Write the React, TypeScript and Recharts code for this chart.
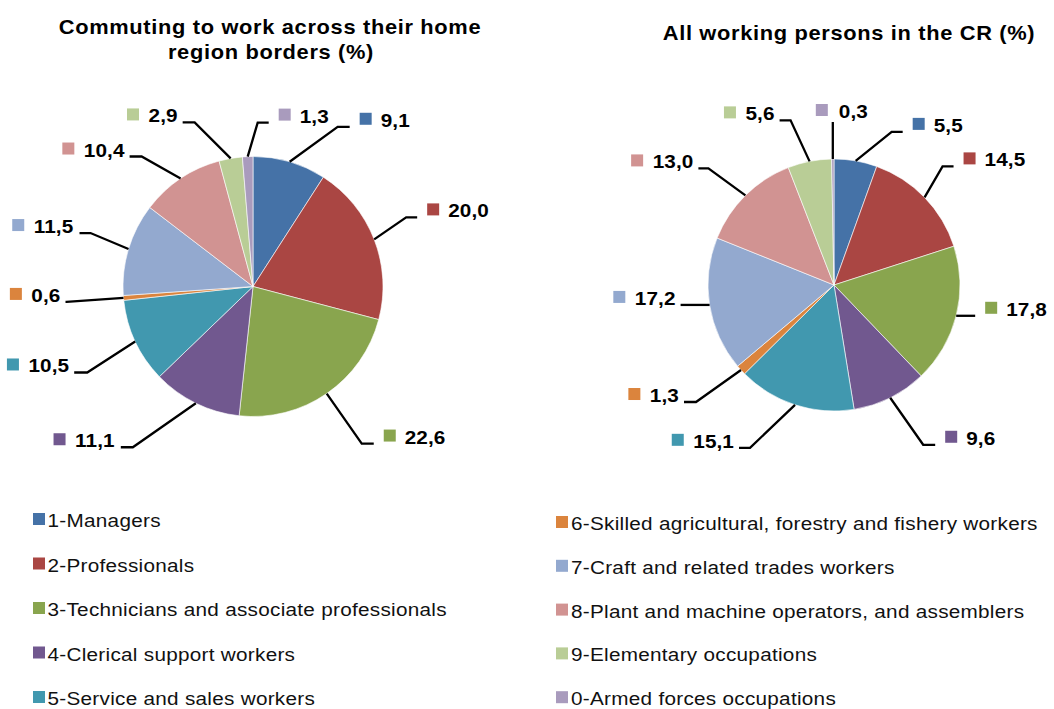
import React from "react";
import { PieChart, Pie, Cell } from "recharts";

// Occupation groups (ISCO major groups)
const CATEGORIES = [
  "1-Managers",
  "2-Professionals",
  "3-Technicians and associate professionals",
  "4-Clerical support workers",
  "5-Service and sales workers",
  "6-Skilled agricultural, forestry and fishery workers",
  "7-Craft and related trades workers",
  "8-Plant and machine operators, and assemblers",
  "9-Elementary occupations",
  "0-Armed forces occupations",
];

// Shares in %
const COMMUTING = [9.1, 20.0, 22.6, 11.1, 10.5, 0.6, 11.5, 10.4, 2.9, 1.3];
const ALL_WORKING = [5.5, 14.5, 17.8, 9.6, 15.1, 1.3, 17.2, 13.0, 5.6, 0.3];

const TITLE_LEFT = ["Commuting to work across their home", "region borders (%)"];
const TITLE_RIGHT = "All working persons in the CR (%)";

const COLORS = [
  "#4572A7",
  "#AA4643",
  "#89A54E",
  "#71588F",
  "#4198AF",
  "#DB843D",
  "#93A9CF",
  "#D19392",
  "#B9CD96",
  "#A99BBD",
];

// Leader line layout per slice: elbow offset from slice edge [dx, dy], then horizontal run
const LEFT_LABEL_LAYOUT = [
  [48, -35, 12],
  [32, -22, 11],
  [35, 50, 12],
  [-63, 44, -12],
  [-48, 31, -13],
  [-57, 4, -1],
  [-38, -16, -11],
  [-39, -22, -12],
  [-36, -36, -12],
  [10, -34, 11],
];
const RIGHT_LABEL_LAYOUT = [
  [36, -29, 11],
  [18, -31, 11],
  [0, 0, 19],
  [33, 47, 12],
  [-45, 43, -11],
  [-45, 32, -12],
  [0, 0, -29],
  [-37, -27, -10],
  [-19, -41, -11],
  [0, -37, 0],
];

const FONT = "'Liberation Sans', Arial, Helvetica, sans-serif";
const SX = 1.12; // Excel text renders wider than the plain font
const LABEL_FS = 18.5;
const LABEL_LS = 0.1;

const fmt = (v: number) => v.toFixed(1).replace(".", ",");

// rough advance width for bold digits / comma
const textAdvance = (s: string) =>
  SX * s.split("").reduce((acc, ch) => acc + (ch === "," ? 0.278 : 0.556) * LABEL_FS + LABEL_LS, 0);

const WideText: React.FC<any> = ({ x, y, children, ...rest }) => (
  <text transform={`translate(${x} ${y}) scale(${SX} 1)`} {...rest}>
    {children}
  </text>
);

const makeLabel = (layout: number[][]) => (props: any) => {
  const { cx, cy, midAngle, outerRadius, index, value } = props;
  const RAD = Math.PI / 180;
  const sx = cx + outerRadius * Math.cos(-midAngle * RAD);
  const sy = cy + outerRadius * Math.sin(-midAngle * RAD);
  const [dx, dy, h] = layout[index];
  const ex = sx + dx;
  const ey = sy + dy;
  const hx = ex + h;
  const text = fmt(value);
  const color = COLORS[index];

  let markerX: number;
  let textX: number;
  let baseY: number;
  if (h > 0) {
    markerX = hx + 10;
    textX = hx + 31;
    baseY = ey;
  } else if (h < 0) {
    textX = hx - 5 - textAdvance(text);
    markerX = textX - 9.5 - 12;
    baseY = ey;
  } else {
    markerX = ex - 17;
    textX = ex + 6;
    baseY = ey - 4;
  }
  const markerY = baseY - 14;

  return (
    <g>
      <polyline
        points={`${sx},${sy} ${ex},${ey} ${hx},${ey}`}
        fill="none"
        stroke="#000"
        strokeWidth={2.3}
      />
      <rect x={markerX} y={markerY} width={12} height={12} fill={color} />
      <WideText
        x={textX}
        y={baseY}
        fill="#000"
        fontFamily={FONT}
        fontSize={LABEL_FS}
        fontWeight="bold"
        letterSpacing={LABEL_LS}
      >
        {text}
      </WideText>
    </g>
  );
};

const App: React.FC = () => {
  const leftData = CATEGORIES.map((name, i) => ({ name, value: COMMUTING[i] }));
  const rightData = CATEGORIES.map((name, i) => ({ name, value: ALL_WORKING[i] }));

  return (
    <div
      style={{
        position: "absolute",
        left: 0,
        top: 0,
        width: 1054,
        height: 709,
        background: "#fff",
        fontFamily: FONT,
      }}
    >
      <PieChart width={1054} height={480} margin={{ top: 0, right: 0, bottom: 0, left: 0 }}>
        <Pie
          data={leftData}
          dataKey="value"
          nameKey="name"
          cx={253}
          cy={286.5}
          outerRadius={130}
          startAngle={90}
          endAngle={-270}
          stroke="#fff"
          strokeWidth={0.6}
          labelLine={false}
          label={makeLabel(LEFT_LABEL_LAYOUT)}
          isAnimationActive={false}
        >
          {leftData.map((d, i) => (
            <Cell key={d.name} fill={COLORS[i]} />
          ))}
        </Pie>
        <Pie
          data={rightData}
          dataKey="value"
          nameKey="name"
          cx={834}
          cy={285}
          outerRadius={126}
          startAngle={90}
          endAngle={-270}
          stroke="#fff"
          strokeWidth={0.6}
          labelLine={false}
          label={makeLabel(RIGHT_LABEL_LAYOUT)}
          isAnimationActive={false}
        >
          {rightData.map((d, i) => (
            <Cell key={d.name} fill={COLORS[i]} />
          ))}
        </Pie>
      </PieChart>

      {/* titles and legend */}
      <svg
        width={1054}
        height={709}
        style={{ position: "absolute", left: 0, top: 0, pointerEvents: "none" }}
      >
        <g fontFamily={FONT} fontWeight="bold" fontSize={19.5} fill="#000" letterSpacing={0.6}>
          <WideText x={270} y={34} textAnchor="middle">
            {TITLE_LEFT[0]}
          </WideText>
          <WideText x={271} y={59} textAnchor="middle">
            {TITLE_LEFT[1]}
          </WideText>
          <WideText x={849} y={40} textAnchor="middle">
            {TITLE_RIGHT}
          </WideText>
        </g>
        <g fontFamily={FONT} fontSize={18.5} fill="#111" letterSpacing={0.25}>
          {CATEGORIES.map((name, i) => {
            const col = i < 5 ? 0 : 1;
            const row = i % 5;
            const mx = col === 0 ? 33 : 556;
            const tx = col === 0 ? 47.5 : 571;
            const base = col === 0 ? 527 + row * 44.5 : 530 + row * 43.8;
            return (
              <g key={name}>
                <rect x={mx} y={base - 14} width={12} height={12} fill={COLORS[i]} />
                <WideText x={tx} y={base}>
                  {name}
                </WideText>
              </g>
            );
          })}
        </g>
      </svg>
    </div>
  );
};

export default App;
